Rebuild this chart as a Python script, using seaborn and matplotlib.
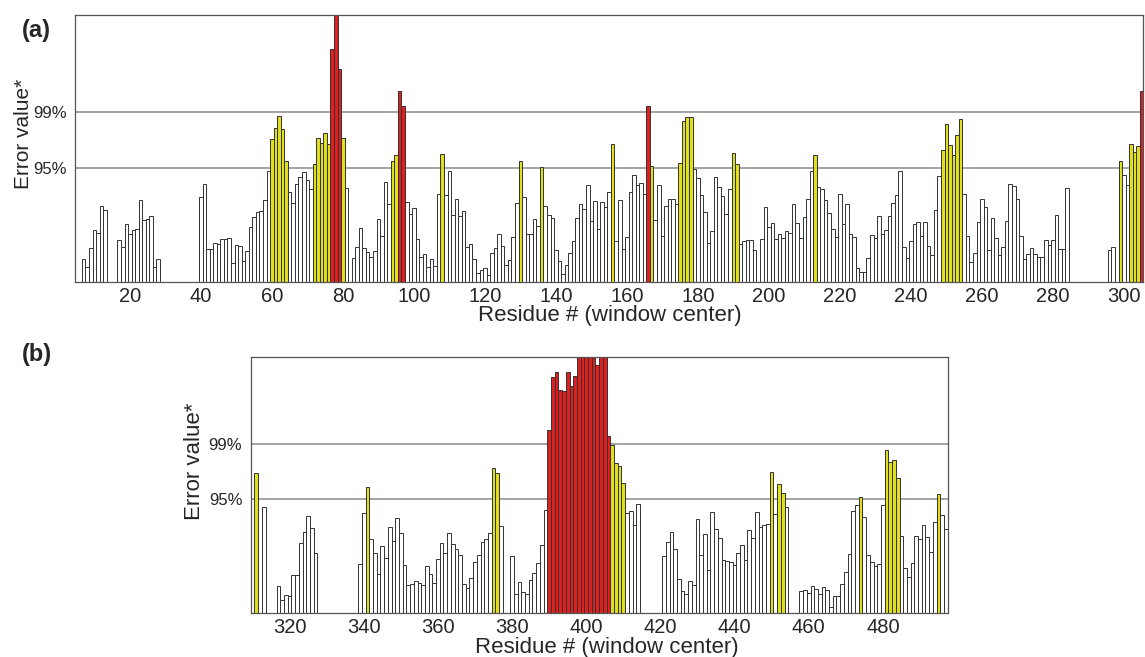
import numpy as np
import pandas as pd
import matplotlib
matplotlib.use("Agg")
import matplotlib.pyplot as plt
import seaborn as sns

# panel (a): window centres and error values (bars taller than the axis are clipped)
res_a = [*range(7, 14), *range(17, 29), *range(40, 82), *range(83, 197),
         *range(198, 285), 296, 297, *range(299, 306)]
err_a = [
    2.27, 1.5, 3.37, 5.13, 4.9, 7.53, 7.17,
    4.2, 3.5, 5.73, 4.73, 5.17, 5.3, 8.17, 6.13, 6.27, 6.53, 1.5, 2.27,
    8.43, 9.8, 3.27, 3.3, 3.87, 3.73, 4.27, 4.3, 4.4, 1.9,
    3.67, 3.6, 2.1, 3.1, 5.47, 6.47, 7.0, 7.03, 8.17, 11.1,
    14.23, 15.4, 16.53, 15.27, 12.1, 9.0, 7.9, 9.73, 10.5, 10.93,
    10.2, 9.3, 11.8, 14.37, 13.83, 14.83, 13.77, 23.23, 28.0, 21.23,
    14.37, 9.33,
    2.4, 3.47, 5.4, 3.37, 2.97, 2.47, 3.1,
    6.27, 4.57, 9.97, 7.77, 12.07, 12.7, 19.07, 17.53, 8.0, 6.77,
    7.4, 4.27, 2.5, 2.73, 1.43, 2.3, 1.57, 8.77, 12.77, 8.7,
    11.07, 6.67, 8.3, 6.53, 7.1, 3.43, 3.8, 2.3, 0.83, 1.17,
    1.33, 0.67, 2.87, 3.33, 4.8, 3.6, 1.67, 2.17, 4.5, 7.83,
    12.1, 8.5, 4.77, 4.77, 6.27, 5.57, 11.45, 7.57, 6.67, 6.37,
    3.13, 2.1, 0.77, 1.63, 2.9, 4.1, 6.33, 7.77, 7.27, 9.7,
    6.07, 8.03, 5.27, 7.97, 7.5, 8.97, 13.73, 4.1, 8.2, 3.27,
    4.5, 9.0, 10.7, 9.7, 9.9, 8.8, 17.6, 11.57, 6.17, 9.67,
    4.57, 7.53, 8.23, 8.23, 7.8, 11.9, 16.07, 16.5, 16.5, 11.3,
    10.4, 8.67, 6.93, 3.87, 5.1, 10.43, 9.5, 8.57, 6.73, 9.3,
    12.83, 11.73, 3.73, 4.03, 4.17, 4.17, 3.2,
    4.23, 7.5,
    5.45, 5.87, 4.3, 4.8, 4.4, 5.03, 4.83, 7.8, 5.87, 4.4,
    6.5, 8.27, 11.1, 12.67, 9.45, 9.3, 8.2, 6.83, 5.27, 4.5,
    8.8, 5.8, 7.8, 4.8, 4.47, 1.35, 0.93, 1.0, 2.37, 4.7,
    4.4, 6.53, 4.8, 5.13, 6.53, 7.87, 8.63, 11.1, 3.47, 2.4,
    4.03, 5.77, 5.97, 4.6, 5.97, 3.55, 2.65, 7.2, 10.53, 13.17,
    15.77, 13.7, 12.63, 14.63, 16.23, 8.8, 4.53, 2.0, 2.87, 6.0,
    8.27, 7.47, 3.17, 6.33, 4.33, 2.7, 3.45, 6.1, 9.73, 9.6,
    8.27, 4.6, 2.3, 2.73, 3.35, 2.8, 2.5, 2.5, 4.2, 3.63,
    4.2, 6.7, 3.23, 3.27, 9.37,
    3.17, 3.5,
    12.07, 10.67, 9.67, 13.77, 12.93, 13.6, 19.03,
]

# panel (b)
res_b = [311, 313, *range(317, 328), *range(339, 378), *range(380, 415),
         *range(421, 455), *range(458, 498)]
err_b = [
    14.07, 10.6,
    2.73, 1.33, 1.8, 1.73, 3.8, 3.8, 7.07, 8.13, 9.7, 8.53, 6.07,
    4.93,
    10.03, 12.6, 7.43, 6.03, 3.9, 6.77, 5.57, 8.67, 7.23, 9.5,
    8.0, 4.8, 2.8, 2.9, 3.2, 3.0, 2.85, 4.7, 3.9, 3.0,
    5.47, 7.0, 6.07, 8.07, 6.9, 6.47, 5.8, 2.93, 2.53, 3.57,
    5.13, 5.83, 7.17, 7.47, 8.0, 14.57, 14.07, 8.73,
    5.73, 1.9, 3.17, 2.1, 1.93, 3.33, 4.07, 5.03, 6.8, 10.37,
    18.33, 23.67, 24.13, 22.3, 22.2, 24.17, 22.7, 23.73, 28.0, 28.0,
    28.0, 28.0, 28.0, 24.83, 28.0, 28.0, 17.73, 16.87, 15.0, 14.77,
    13.07, 10.0, 10.23, 8.83, 10.9,
    5.73, 7.17, 8.1, 6.4, 3.4, 2.2, 1.93, 3.2, 2.83,
    9.4, 5.8, 7.93, 4.33, 10.1, 8.47, 7.57, 5.3, 5.23, 5.1,
    4.83, 6.07, 6.8, 5.3, 8.3, 7.5, 10.1, 8.6, 8.87, 8.97,
    14.1, 9.97, 12.93, 12.07, 10.63,
    2.2, 2.37,
    2.0, 2.73, 2.47, 1.97, 2.6, 2.33, 0.67, 1.73, 1.7, 2.9,
    4.13, 5.9, 10.23, 10.8, 11.63, 9.67, 5.8, 5.1, 4.7, 4.93,
    10.83, 16.33, 15.1, 15.33, 13.53, 7.77, 4.5, 3.63, 5.03, 7.7,
    7.47, 8.8, 7.63, 6.13, 9.13, 11.93, 9.83, 8.43,
]

# significance thresholds on the same scale
thr95 = 11.4
thr99 = 16.95
thr_labels = ["95%", "99%"]

sns.set_style("white")
plt.rcParams["font.family"] = ["Liberation Sans", "DejaVu Sans"]

W, H = 1145, 657
fig = plt.figure(figsize=(W / 100, H / 100), dpi=100)
ax_a = fig.add_axes([75 / W, 1 - 281.7 / H, 1068 / W, 266.7 / H])
ax_b = fig.add_axes([250.7 / W, 1 - 613.3 / H, 697 / W, (613.3 - 357) / H])

colours = {"ns": "white", "p95": "#ffff00", "p99": "#ff0000"}


def draw_panel(ax, res, err, xlim, ylim, major, minor):
    df = pd.DataFrame({"residue": res, "error": err})
    df["level"] = np.where(df["error"] >= thr99, "p99",
                           np.where(df["error"] >= thr95, "p95", "ns"))
    sns.barplot(data=df, x="residue", y="error", hue="level",
                hue_order=["ns", "p95", "p99"], palette=colours,
                native_scale=True, width=1, dodge=False, errorbar=None,
                edgecolor="#333333", linewidth=0.7, legend=False, ax=ax)
    for t in (thr95, thr99):
        ax.axhline(t, color="#8a8a8a", lw=1.1, zorder=0)
    ax.set_xlim(*xlim)
    ax.set_ylim(*ylim)
    ax.set_yticks([thr95, thr99], thr_labels, fontsize=12)
    ax.set_xticks(major, [str(m) for m in major], fontsize=14.5)
    ax.set_xticks(minor, minor=True)
    ax.tick_params(axis="y", length=0, pad=6)
    ax.tick_params(axis="x", which="major", length=0, pad=3.5)
    ax.tick_params(axis="x", which="minor", length=3, width=0.8, color="#555555")
    ax.set_xlabel("")
    ax.set_ylabel("")
    for s in ax.spines.values():
        s.set_color("#555555")
        s.set_linewidth(0.9)


draw_panel(ax_a, res_a, err_a, (4.55, 305.4), (0, 26.67),
           list(range(20, 301, 20)), list(range(10, 300, 20)))
draw_panel(ax_b, res_b, err_b, (309.5, 497.5), (0, (613.3 - 357) / 10),
           list(range(320, 481, 20)), list(range(310, 497, 20)))

# texts
fig.text(22 / W, 1 - 30 / H, "(a)", fontsize=17, fontweight="bold", va="center", ha="left")
fig.text(22 / W, 1 - 355 / H, "(b)", fontsize=17, fontweight="bold", va="center", ha="left")
fig.text(24 / W, 1 - 134 / H, "Error value*", rotation=90, fontsize=15, va="center", ha="center")
fig.text(194 / W, 1 - 461 / H, "Error value*", rotation=90, fontsize=16, va="center", ha="center")
fig.text(610 / W, 1 - 316 / H, "Residue # (window center)", fontsize=16, va="center", ha="center")
fig.text(607 / W, 1 - 647.5 / H, "Residue # (window center)", fontsize=16, va="center", ha="center")

fig.savefig("out.png", dpi=100)
